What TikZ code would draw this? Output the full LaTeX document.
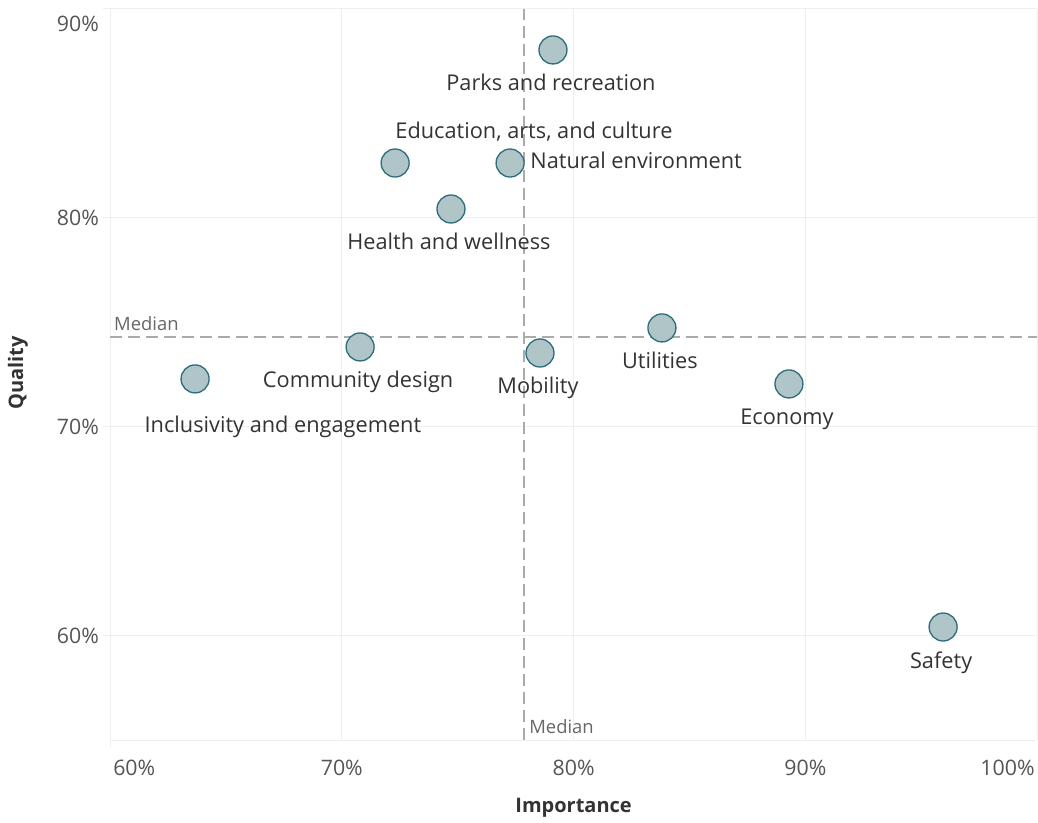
\documentclass[tikz,border=0pt]{standalone}
\usepackage{fontspec}
\setmainfont{Open Sans}
\usepackage{tikz}
\usetikzlibrary{positioning}
\definecolor{dotfill}{HTML}{AFC5C8}
\definecolor{dotline}{HTML}{2F6E7B}
\definecolor{gridgray}{HTML}{EFEFEF}
\definecolor{mediangray}{HTML}{ABABAB}
\definecolor{ticktext}{HTML}{555555}
\definecolor{labeltext}{HTML}{333333}
\tikzstyle{dot}=[circle,draw=dotline,fill=dotfill,line width=1pt,minimum size=21pt,inner sep=0pt]
\tikzstyle{tag}=[font=\fontsize{16.3}{19}\selectfont,text=labeltext,inner sep=0pt,text height=12pt,text depth=3.5pt]
\tikzstyle{tick}=[font=\fontsize{16}{19}\selectfont,text=ticktext,inner sep=0pt]
\tikzstyle{median note}=[font=\fontsize{13.8}{16}\selectfont,text=ticktext!90,inner sep=0pt]
\tikzstyle{grid line}=[draw=gridgray,line width=0.75pt]
\tikzstyle{median}=[draw=mediangray,line width=2pt,dash pattern=on 9pt off 4.5pt]
\tikzstyle{axis title}=[font=\bfseries\fontsize{15}{18}\selectfont,text=labeltext,inner sep=0pt]

\begin{document}
\begin{tikzpicture}[x=17.385pt,y=15.675pt]
    \useasboundingbox (55.255,51.053) rectangle (100.035,90.431);
    % grid
    \foreach \imp in {60,70,80,90,100}
        \draw[grid line] (\imp,55) -- (\imp,90);
    \foreach \qual in {60,70,80,90}
        \draw[grid line] (59.7,\qual) -- (100,\qual);
    \draw[grid line] (60,54.67) -- (60,55) -- (100,55);
    % axis labels
    \foreach \qual/\ypos in {60/60, 70/70, 80/80, 90/89.28}
        \node[tick,anchor=east] (q\qual) at (59.53,\ypos) {\qual\%};
    \node[tick,anchor=west] (i60) at (60.13,53.68) {60\%};
    \foreach \imp in {70,80,90}
        \node[tick] (i\imp) at (\imp,53.68) {\imp\%};
    \node[tick,anchor=east] (i100) at (99.9,53.68) {100\%};
    \node[axis title] (xtitle) at (80,51.77) {Importance};
    \node[axis title,rotate=90] (ytitle) at (56.03,72.58) {Quality};
    % medians
    \draw[median] (60,74.31) -- (100,74.31);
    \draw[median] (77.86,55) -- (77.86,90);
    \node[median note,anchor=west] (hmed) at (60.17,74.93) {Median};
    \node[median note,anchor=west] (vmed) at (78.08,55.65) {Median};
    % points
    \foreach \name/\imp/\qual in {parks/79.11/88.04, educ/72.30/82.63, natural/77.26/82.63,
        health/74.71/80.43, community/70.79/73.83, inclusion/63.67/72.30, mobility/78.55/73.54,
        utilities/83.81/74.74, economy/89.29/72.06, safety/95.94/60.43}
        \node[dot] (\name) at (\imp,\qual) {};
    \foreach \name/\text in {parks/Parks and recreation, health/Health and wellness,
        community/Community design, mobility/Mobility, utilities/Utilities,
        economy/Economy, safety/Safety}
        \node[tag] (\name-tag) at ([xshift=-1.5pt,yshift=-26.5pt]\name.center) {\text};
    \node[tag] (educ-tag) at (78.29,84.06) {Education, arts, and culture};
    \node[tag,right=4pt of natural] (natural-tag) {Natural environment};
    \node[tag] (inclusion-tag) at (67.46,70.03) {Inclusivity and engagement};
\end{tikzpicture}
\end{document}
